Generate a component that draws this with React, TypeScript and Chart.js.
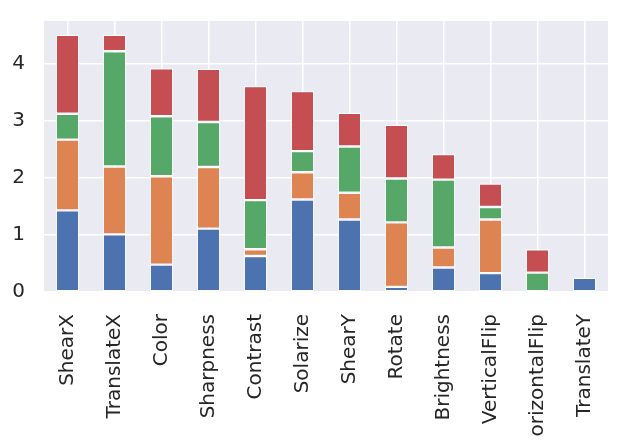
import { useEffect, useRef } from "react";
import { Chart, registerables } from "chart.js";

Chart.register(...registerables);

const categories = [
  "ShearX", "TranslateX", "Color", "Sharpness", "Contrast", "Solarize",
  "ShearY", "Rotate", "Brightness", "VerticalFlip", "HorizontalFlip", "TranslateY",
];
const blueValues = [1.43, 1.01, 0.48, 1.11, 0.63, 1.62, 1.27, 0.09, 0.43, 0.33, 0, 0.25];
const orangeValues = [1.24, 1.19, 1.55, 1.08, 0.12, 0.48, 0.47, 1.13, 0.35, 0.94, 0, 0];
const greenValues = [0.455, 2.02, 1.05, 0.79, 0.86, 0.37, 0.81, 0.77, 1.19, 0.22, 0.34, 0];
const redValues = [1.385, 0.29, 0.84, 0.93, 2.0, 1.05, 0.59, 0.94, 0.45, 0.41, 0.41, 0];
const yTicks = [0, 1, 2, 3, 4];

const FONT = "'DejaVu Sans', sans-serif";

// grey seaborn-style panel behind the bars
const panelBg = {
  id: "panelBg",
  beforeDraw(chart: Chart) {
    const { ctx, chartArea } = chart;
    ctx.save();
    ctx.fillStyle = "#ffffff";
    ctx.fillRect(0, 0, chart.width, chart.height);
    ctx.fillStyle = "#EAEAF2";
    ctx.fillRect(chartArea.left, chartArea.top, chartArea.right - chartArea.left, chartArea.bottom - chartArea.top);
    ctx.restore();
  },
};

const App = () => {
  const chartRef = useRef<HTMLCanvasElement | null>(null);

  useEffect(() => {
    if (!chartRef.current) return;
    const ctx = chartRef.current.getContext("2d");
    if (!ctx) return;

    const seg = (label: string, data: number[], color: string) => ({
      label,
      data,
      backgroundColor: color,
      borderColor: "#ffffff",
      borderWidth: 1.2,
      borderSkipped: false as const,
      barPercentage: 0.5,
      categoryPercentage: 1,
    });

    const myChart = new Chart(ctx, {
      type: "bar",
      data: {
        labels: categories,
        datasets: [
          seg("blue", blueValues, "#4C72B0"),
          seg("orange", orangeValues, "#DD8452"),
          seg("green", greenValues, "#55A868"),
          seg("red", redValues, "#C44E52"),
        ],
      },
      options: {
        animation: false,
        responsive: false,
        maintainAspectRatio: false,
        layout: { padding: { top: 21, right: 20, left: 0, bottom: 0 } },
        plugins: { legend: { display: false }, tooltip: { enabled: false } },
        scales: {
          x: {
            stacked: true,
            border: { display: false },
            grid: { color: "#ffffff", lineWidth: 1.5, offset: false, drawTicks: false },
            ticks: {
              color: "#262626",
              font: { family: FONT, size: 20 },
              minRotation: 90,
              maxRotation: 90,
              padding: 22,
              autoSkip: false,
            },
            afterFit(scale: any) {
              scale.height = 153;
              scale.paddingLeft = 0;
              scale.paddingRight = 0;
            },
          },
          y: {
            stacked: true,
            min: 0,
            max: 4.75,
            border: { display: false },
            grid: { color: "#ffffff", lineWidth: 1.5, drawTicks: false },
            afterBuildTicks(scale: any) {
              scale.ticks = yTicks.map((v) => ({ value: v }));
            },
            ticks: {
              color: "#262626",
              font: { family: FONT, size: 20 },
              padding: 19,
            },
            afterFit(scale: any) {
              scale.width = 44;
              scale.paddingTop = 0;
              scale.paddingBottom = 0;
            },
          },
        },
      },
      plugins: [panelBg],
    });

    return () => {
      myChart.destroy();
    };
  }, []);

  return (
    <div style={{ width: 628, height: 445, margin: -8 }}>
      <canvas ref={chartRef} width={628} height={445} style={{ display: "block" }}></canvas>
    </div>
  );
};

export default App;
